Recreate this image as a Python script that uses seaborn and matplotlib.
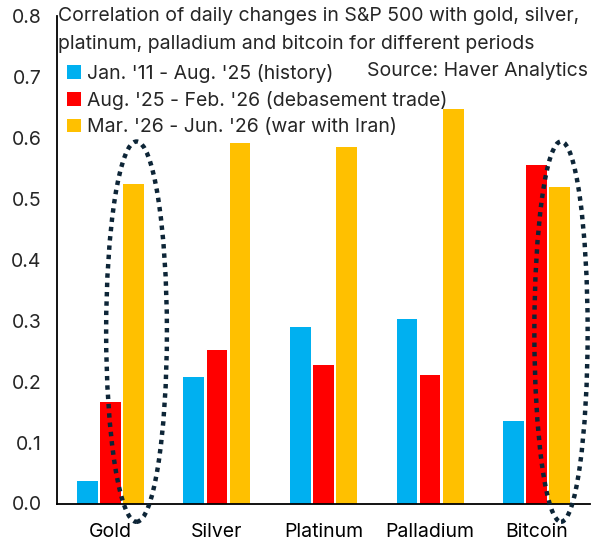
import matplotlib
matplotlib.use("Agg")
import matplotlib.pyplot as plt
from matplotlib.patches import Ellipse, Patch
import seaborn as sns
import pandas as pd

categories = ["Gold", "Silver", "Platinum", "Palladium", "Bitcoin"]
periods = ["Jan. '11 - Aug. '25 (history)",
           "Aug. '25 - Feb. '26 (debasement trade)",
           "Mar. '26 - Jun. '26 (war with Iran)"]
history = [0.037, 0.208, 0.290, 0.303, 0.136]
debasement = [0.166, 0.252, 0.227, 0.211, 0.556]
war = [0.525, 0.592, 0.585, 0.648, 0.520]
colors = ["#00B0F0", "#FF0000", "#FFC000"]
yticks = [0.0, 0.1, 0.2, 0.3, 0.4, 0.5, 0.6, 0.7, 0.8]
title_lines = ["Correlation of daily changes in S&P 500 with gold, silver,",
               "platinum, palladium and bitcoin for different periods"]
source = "Source: Haver Analytics"

rows = []
for series, name in zip([history, debasement, war], periods):
    for c, v in zip(categories, series):
        rows.append({"asset": c, "period": name, "value": v})
df = pd.DataFrame(rows)

sns.set_style("white")
FONT = "Inter"
FS = 14
plt.rcParams["font.family"] = [FONT, "DejaVu Sans"]

fig = plt.figure(figsize=(6, 5.53), dpi=100)
ax = fig.add_axes([57/600, 1-503.5/553, 533/600, 487.5/553])

sns.barplot(data=df, x="asset", y="value", hue="period", order=categories,
            hue_order=periods, palette=colors, width=0.65, gap=0.1,
            linewidth=0, saturation=1, ax=ax, legend=False)

ax.set_xlim(-0.5, 4.5)
ax.set_ylim(0, 0.8)
ax.set_yticks(yticks)
ax.set_yticklabels([f"{t:.1f}" for t in yticks])
ax.set_xticks(range(len(categories)))
ax.set_xticklabels(categories)
ax.set_xticks([i - 0.5 for i in range(len(categories) + 1)], minor=True)
ax.tick_params(axis="x", which="major", length=0, labelsize=FS, pad=14, colors="black")
ax.tick_params(axis="x", which="minor", length=6, width=1.2, color="black", direction="out")
ax.tick_params(axis="y", length=6, width=1.2, labelsize=FS, color="black", direction="out", pad=5)
ax.set_xlabel("")
ax.set_ylabel("")
for s in ["top", "right"]:
    ax.spines[s].set_visible(False)
for s in ["left", "bottom"]:
    ax.spines[s].set_color("black")
    ax.spines[s].set_linewidth(1.3)
ax.grid(False)

# dotted ellipses
for xc, w in [(0.246, 0.57), (4.228, 0.50)]:
    e = Ellipse((xc, 0.282), w, 0.624, fill=False, edgecolor="#0D2537",
                linewidth=3.2, linestyle=(0, (1, 1.1)), clip_on=False, zorder=5)
    ax.add_patch(e)

# title lines
fig.text(58/600, 1-16/553, title_lines[0], ha="left", va="center", fontsize=FS)
fig.text(58/600, 1-44/553, title_lines[1], ha="left", va="center", fontsize=FS)
fig.text(588/600, 1-71/553, source, ha="right", va="center", fontsize=FS)

handles = [Patch(facecolor=c, edgecolor="none") for c in colors]
leg = fig.legend(handles, periods, loc="upper left",
                 bbox_to_anchor=(67/600, 1-64/553), frameon=False,
                 fontsize=FS, handlelength=0.72, handleheight=0.72,
                 handletextpad=0.3, labelspacing=0.42, borderpad=0, borderaxespad=0)

fig.savefig("out.png", dpi=100)
